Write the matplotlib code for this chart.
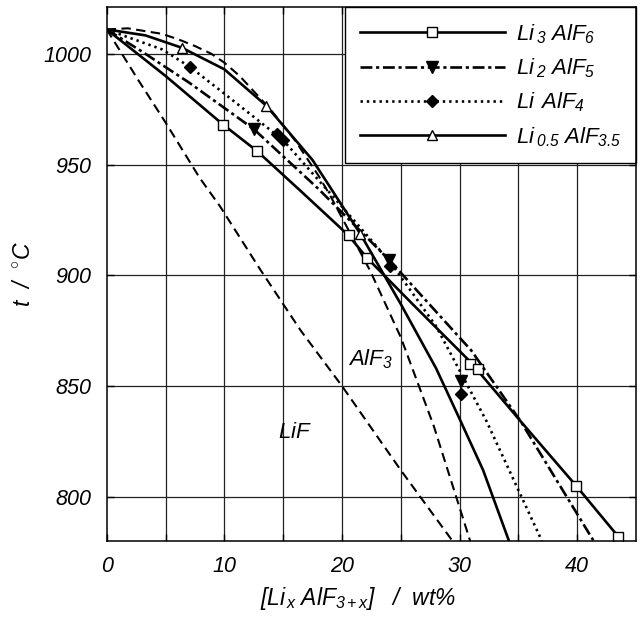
import numpy as np
import matplotlib.pyplot as plt

plt.rcParams['font.family'] = ['Liberation Sans', 'DejaVu Sans']
plt.rcParams['font.style'] = 'italic'
plt.rcParams['mathtext.fontset'] = 'custom'
plt.rcParams['mathtext.it'] = 'Liberation Sans:italic'
plt.rcParams['mathtext.rm'] = 'Liberation Sans:italic'
plt.rcParams['mathtext.default'] = 'it'

# liquidus curves (wt%, degC)
lif_x = [0, 2.7, 5, 7.9, 9.65, 13, 16.5, 20, 25, 29.4]
lif_t = [1011, 988, 969, 944, 931, 903, 875, 850, 812, 780]

alf3_x = [0, 1.8, 4.7, 6.1, 7.5, 8.9, 10, 11.3, 13.9, 16, 18, 19, 20.3, 22.4, 25, 27.8, 30.9]
alf3_t = [1011, 1011.5, 1009, 1006.5, 1003.5, 1000, 996, 990, 975, 961, 945, 936, 923, 902, 872, 832, 780]

li3_x = [0, 5, 9.9, 12.8, 16.5, 20.56, 22.1, 26, 30.9, 35.2, 39.9, 43.8]
li3_t = [1011, 990, 968, 956, 938, 918, 908, 887, 861, 834, 805, 780]
li3_px = [9.9, 12.8, 20.56, 22.1, 30.9, 31.6, 39.9, 43.5]
li3_pt = [968, 956, 918.4, 907.7, 860, 857.7, 804.9, 781.9]

li2_x = [0, 3, 7, 12.5, 18, 24, 31, 35.2, 41.4]
li2_t = [1011, 1001, 987, 966, 939, 907, 866, 834, 780]
li2_px = [12.5, 24.0, 30.1]
li2_pt = [966, 907, 852.4]

li1_x = [0, 1.8, 4.7, 7.1, 10, 15, 20, 24.1, 28, 32.3, 37]
li1_t = [1011, 1007.5, 1002, 994, 982, 961, 931, 906, 877, 834, 780]
li1_px = [7.1, 14.5, 15.0, 24.1, 30.1]
li1_pt = [994, 964, 961, 904.3, 846.4]

li05_x = [0, 3.3, 6.4, 10, 13.56, 17.5, 21.56, 25, 28, 30.1, 32, 34.2]
li05_t = [1011, 1008.3, 1002.7, 993, 976.6, 952, 918.7, 887, 858, 834, 812, 780]
li05_px = [6.4, 13.56, 21.56]
li05_pt = [1002.7, 976.6, 918.7]

xticks = [0, 10, 20, 30, 40]
yticks = [800, 850, 900, 950, 1000]
xgrid = np.arange(5, 45, 5)
ygrid = np.arange(800, 1001, 50)

fig = plt.figure(figsize=(6.42, 6.22), dpi=100)
ax = fig.add_axes([0.1662, 0.1302, 0.8245, 0.8581])

for gx in xgrid:
    ax.axvline(gx, color='#222222', lw=0.9, zorder=0.5)
for gy in ygrid:
    ax.axhline(gy, color='#222222', lw=0.9, zorder=0.5)

lw = 1.9
dash = (0, (4.5, 2.6))
dashdot = (0, (4.5, 1.4, 1.2, 1.4))
dots = (0, (0.9, 1.5))
ax.plot(lif_x, lif_t, color='black', lw=1.5, ls=dash)
ax.plot(alf3_x, alf3_t, color='black', lw=1.5, ls=dash)

ax.plot(li3_x, li3_t, color='black', lw=lw)
ax.plot(li3_px, li3_pt, ls='none', marker='s', ms=7.5, mfc='white', mec='black', mew=1.0)
ax.plot(li2_x, li2_t, color='black', lw=lw, ls=dashdot)
ax.plot(li2_px, li2_pt, ls='none', marker='v', ms=8, color='black')
ax.plot(li1_x, li1_t, color='black', lw=lw, ls=dots)
ax.plot(li1_px, li1_pt, ls='none', marker='D', ms=6.5, color='black')
ax.plot(li05_x, li05_t, color='black', lw=lw)
ax.plot(li05_px, li05_pt, ls='none', marker='^', ms=7.5, mfc='white', mec='black', mew=1.0)

# legend proxies
h1, = ax.plot([], [], color='black', lw=lw, marker='s', ms=7.5, mfc='white', mec='black', mew=1.0)
h2, = ax.plot([], [], color='black', lw=lw, ls=dashdot, marker='v', ms=8)
h3, = ax.plot([], [], color='black', lw=lw, ls=dots, marker='D', ms=6.5)
h4, = ax.plot([], [], color='black', lw=lw, marker='^', ms=7.5, mfc='white', mec='black', mew=1.0)
labels = [r'$Li_{\;3}\;AlF_{6}$', r'$Li_{\;2}\;AlF_{5}$', r'$Li\;\,AlF_{4}$', r'$Li_{\;0.5}\;AlF_{3.5}$']
leg = ax.legend([h1, h2, h3, h4], labels, loc='upper right', borderaxespad=0,
                fancybox=False, framealpha=1, edgecolor='black', fontsize=16,
                handlelength=6.5, handletextpad=0.5, numpoints=1, labelspacing=0.48,
                borderpad=0.67)
leg.get_frame().set_linewidth(1.0)
leg.set_zorder(2.4)

ax.text(22.4, 862, r'$AlF_{3}$', fontsize=16, ha='center', va='center')
ax.text(16.0, 829, r'$LiF$', fontsize=16, ha='center', va='center')

ax.set_xlim(0, 45)
ax.set_ylim(780, 1021)
ax.set_xticks(xticks)
ax.set_xticks(xgrid, minor=True)
ax.set_yticks(yticks)
ax.tick_params(which='both', direction='in', length=5, width=1, top=True, right=True,
               labelsize=15.5, pad=11)
for s in ax.spines.values():
    s.set_linewidth(1.1)

ax.set_ylabel(r'$t\ \ /\ \ ^{\circ}C$', fontsize=16.5, labelpad=6)
fig.text(358 / 642, 1 - 598 / 622, r'$[Li_{\,x}\;AlF_{3+x}]\ \ \ /\ \ wt\%$', fontsize=16.5,
         ha='center', va='center')

fig.savefig('out.png', dpi=100)
